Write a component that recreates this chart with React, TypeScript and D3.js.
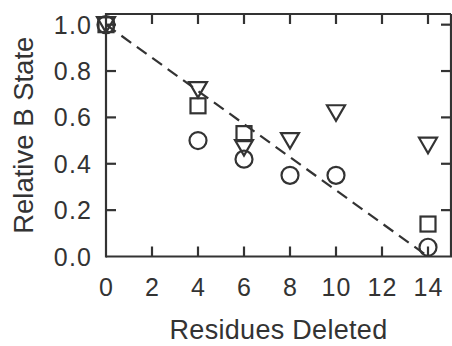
import React, { useEffect, useRef } from 'react';
import * as d3 from 'd3';

// residues deleted vs relative B state
const circles = [
  { x: 0, y: 1.0 },
  { x: 4, y: 0.5 },
  { x: 6, y: 0.42 },
  { x: 8, y: 0.35 },
  { x: 10, y: 0.35 },
  { x: 14, y: 0.04 },
];
const squares = [
  { x: 0, y: 1.0 },
  { x: 4, y: 0.65 },
  { x: 6, y: 0.53 },
  { x: 14, y: 0.14 },
];
const triangles = [
  { x: 0, y: 1.0 },
  { x: 4, y: 0.72 },
  { x: 6, y: 0.47 },
  { x: 8, y: 0.5 },
  { x: 10, y: 0.62 },
  { x: 14, y: 0.48 },
];
const fitLine = [
  { x: 0, y: 1.0 },
  { x: 14, y: 0.0 },
];
const xTicks = [0, 2, 4, 6, 8, 10, 12, 14];
const yTicks = [0, 0.2, 0.4, 0.6, 0.8, 1.0];

const W = 452;
const H = 346;

export default function App() {
  const ref = useRef<SVGSVGElement>(null);

  useEffect(() => {
    const svg = d3.select(ref.current);
    svg.selectAll('*').remove();

    const margin = { top: 14, right: 1, bottom: 90, left: 106 };
    const x = d3.scaleLinear().domain([0, 15]).range([margin.left, W - margin.right]);
    const y = d3.scaleLinear().domain([0, 1.046]).range([H - margin.bottom + 0.5, margin.top]);
    const ink = '#333';
    const font = 'Arial, "Liberation Sans", sans-serif';
    const tick = 10;

    const x0 = x(0), x1 = x(15), y0 = y(0), y1 = y(1.046);

    // frame
    const frame = svg.append('g').attr('stroke', ink).attr('stroke-width', 2.2).attr('fill', 'none');
    frame.append('line').attr('x1', x0).attr('x2', x0).attr('y1', y1 - 1).attr('y2', y0 + 1);
    frame.append('line').attr('x1', x0).attr('x2', x1).attr('y1', y1).attr('y2', y1);
    frame.append('line').attr('x1', x0).attr('x2', W).attr('y1', y0).attr('y2', y0);
    frame.append('line').attr('x1', x1).attr('x2', x1).attr('y1', y1).attr('y2', y0);

    // ticks (inward)
    xTicks.filter(d => d > 0).forEach(d => {
      frame.append('line').attr('x1', x(d)).attr('x2', x(d)).attr('y1', y0).attr('y2', y0 - tick);
      frame.append('line').attr('x1', x(d)).attr('x2', x(d)).attr('y1', y1).attr('y2', y1 + tick);
    });
    yTicks.filter(d => d > 0).forEach(d => {
      frame.append('line').attr('x1', x0).attr('x2', x0 + tick).attr('y1', y(d)).attr('y2', y(d));
      frame.append('line').attr('x1', x1).attr('x2', x1 - tick).attr('y1', y(d)).attr('y2', y(d));
    });

    // tick labels
    svg.append('g').selectAll('text').data(xTicks).join('text')
      .attr('x', d => x(d) + 0.6).attr('y', y0 + 39)
      .attr('text-anchor', 'middle')
      .attr('font-family', font).attr('font-size', 25).attr('letter-spacing', 1.2).attr('fill', ink)
      .text(d => d);
    svg.append('g').selectAll('text').data(yTicks).join('text')
      .attr('x', x0 - 13.8).attr('y', d => y(d)).attr('dy', '0.36em')
      .attr('text-anchor', 'end')
      .attr('font-family', font).attr('font-size', 25).attr('letter-spacing', 1.2).attr('fill', ink)
      .text(d => d3.format('.1f')(d));

    // axis titles
    svg.append('text')
      .attr('x', (x0 + x1) / 2).attr('y', 339)
      .attr('text-anchor', 'middle')
      .attr('font-family', font).attr('font-size', 27).attr('letter-spacing', 0.3).attr('fill', ink)
      .text('Residues Deleted');
    svg.append('text')
      .attr('transform', `translate(33, ${(y0 + y1) / 2}) rotate(-90)`)
      .attr('text-anchor', 'middle')
      .attr('font-family', font).attr('font-size', 27.5).attr('fill', ink)
      .text('Relative B State');

    // dashed fit line
    const line = d3.line<{ x: number; y: number }>().x(d => x(d.x)).y(d => y(d.y));
    svg.append('path').datum(fitLine)
      .attr('d', line)
      .attr('fill', 'none').attr('stroke', ink).attr('stroke-width', 2.2)
      .attr('stroke-dasharray', '12,7');

    // markers
    const marks = svg.append('g').attr('fill', 'none').attr('stroke', ink).attr('stroke-width', 2.2);
    marks.selectAll('circle').data(circles).join('circle')
      .attr('cx', d => x(d.x)).attr('cy', d => y(d.y)).attr('r', 8.5);
    marks.selectAll('rect').data(squares).join('rect')
      .attr('x', d => x(d.x) - 7.5).attr('y', d => y(d.y) - 7.5)
      .attr('width', 15).attr('height', 15);
    marks.selectAll('path.tri').data(triangles).join('path')
      .attr('class', 'tri')
      .attr('transform', d => `translate(${x(d.x)},${y(d.y)})`)
      .attr('d', 'M-9,-7.5L9,-7.5L0,8Z');
  }, []);

  return (
    <div style={{ position: 'absolute', left: 0, top: 0 }}>
      <svg ref={ref} width={W} height={H} style={{ display: 'block', background: '#fff' }} />
    </div>
  );
}
